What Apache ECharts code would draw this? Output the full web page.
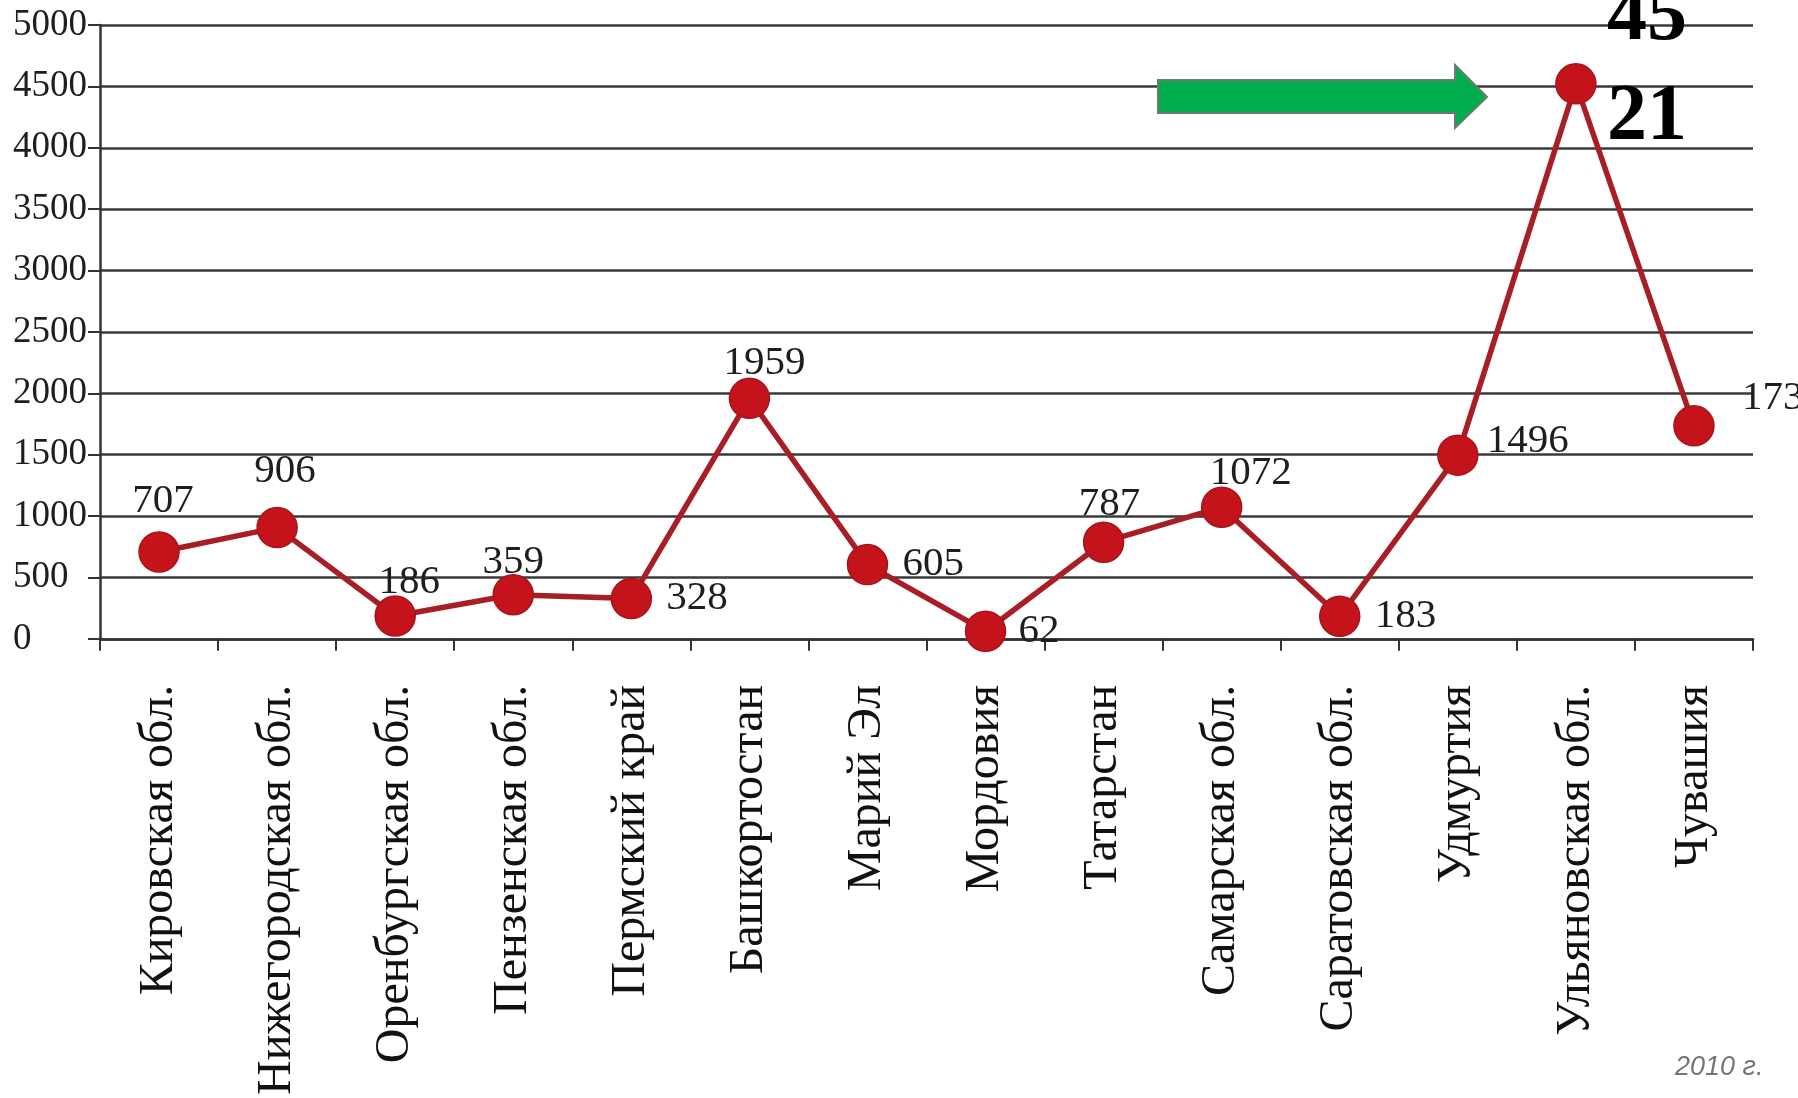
<!DOCTYPE html>
<html>
<head>
<meta charset="utf-8">
<script src="https://cdn.jsdelivr.net/npm/echarts@6/dist/echarts.min.js"></script>
<style>
html,body{margin:0;padding:0;background:#fff;}
#c{width:1798px;height:1098px;}
</style>
</head>
<body>
<div id="c"></div>
<script>
// ---- data ----
const categories = ['Кировская обл.', 'Нижегородская обл.', 'Оренбургская обл.', 'Пензенская обл.', 'Пермский край', 'Башкортостан', 'Марий Эл', 'Мордовия', 'Татарстан', 'Самарская обл.', 'Саратовская обл.', 'Удмуртия', 'Ульяновская обл.', 'Чувашия'];
const values = [707, 906, 186, 359, 328, 1959, 605, 62, 787, 1072, 183, 1496, 4521, 1735];
const yTicks = [0, 500, 1000, 1500, 2000, 2500, 3000, 3500, 4000, 4500, 5000];
const yearNote = '2010 г.';

// ---- label placement (style only) ----
const labelLayout = [
  {align: 'center', offset: [4, -51]},
  {align: 'center', offset: [8, -56]},
  {align: 'center', offset: [14, -34]},
  {align: 'center', offset: [0, -33]},
  {align: 'left', offset: [35, 0]},
  {align: 'center', offset: [15, -35]},
  {align: 'left', offset: [35, 0]},
  {align: 'left', offset: [33, 0]},
  {align: 'center', offset: [6, -38]},
  {align: 'center', offset: [29, -34]},
  {align: 'left', offset: [35, 0]},
  {align: 'left', offset: [29, -14]},
  {align: 'left', offset: [31, -15], big: true},
  {align: 'left', offset: [48, -28]}
];

const serif = 'Liberation Serif';
const chart = echarts.init(document.getElementById('c'), null, {renderer: 'canvas'});

const seriesData = values.map((v, i) => {
  const L = labelLayout[i];
  const lbl = {
    show: true,
    position: 'inside',
    align: L.align,
    verticalAlign: 'middle',
    offset: L.offset,
    fontFamily: serif,
    fontSize: 41,
    color: '#1e1e1e'
  };
  if (L.big) {
    const s = String(v);
    lbl.formatter = s.slice(0, 2) + '\n' + s.slice(2);
    lbl.fontSize = 80;
    lbl.fontWeight = 'bold';
    lbl.lineHeight = 100;
    lbl.color = '#000';
  }
  return {value: v, label: lbl};
});

const option = {
  backgroundColor: '#ffffff',
  animation: false,
  grid: {left: 100, right: 45, top: 25, bottom: 456, containLabel: false},
  xAxis: {
    type: 'category',
    data: categories,
    boundaryGap: true,
    axisLine: {show: true, lineStyle: {color: '#333', width: 2.5}},
    axisTick: {show: true, length: 12, inside: false, lineStyle: {color: '#333', width: 2}},
    axisLabel: {
      interval: 0,
      rotate: 90,
      margin: 46,
      fontFamily: serif,
      fontSize: 48,
      color: '#111'
    },
    splitLine: {show: false}
  },
  yAxis: {
    type: 'value',
    min: yTicks[0],
    max: yTicks[yTicks.length - 1],
    interval: yTicks[1] - yTicks[0],
    axisLine: {show: true, lineStyle: {color: '#333', width: 2.5}},
    axisTick: {show: true, length: 12, lineStyle: {color: '#333', width: 2}},
    axisLabel: {
      align: 'left',
      margin: 87,
      fontFamily: serif,
      fontSize: 37,
      color: '#1e1e1e',
      formatter: v => String(v)
    },
    splitLine: {show: true, lineStyle: {color: '#3a3a3a', width: 2.5}}
  },
  series: [{
    type: 'line',
    data: seriesData,
    symbol: 'circle',
    symbolSize: 40,
    lineStyle: {color: '#A71E24', width: 5.5},
    itemStyle: {color: '#C4131B', borderColor: '#A3161C', borderWidth: 1.5},
    z: 3
  }],
  graphic: [
    {
      type: 'polygon',
      shape: {points: [[1158, 80], [1455, 80], [1455, 65], [1487, 97], [1455, 128], [1455, 113], [1158, 113]]},
      style: {fill: '#00AD4F', stroke: '#6a7a6c', lineWidth: 2},
      z: 10
    },
    {
      type: 'text',
      x: 1675,
      y: 1067,
      style: {
        text: yearNote,
        fontFamily: 'Liberation Sans',
        fontStyle: 'italic',
        fontSize: 27,
        fill: '#757575',
        textVerticalAlign: 'middle',
        verticalAlign: 'middle'
      }
    }
  ]
};
chart.setOption(option);
</script>
</body>
</html>
